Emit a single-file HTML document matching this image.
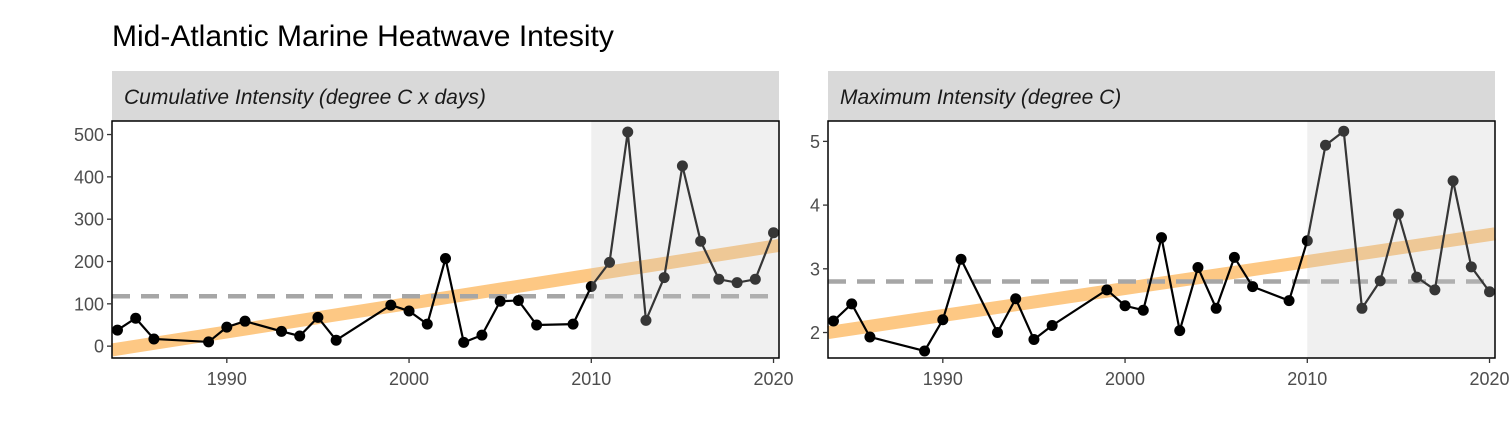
<!DOCTYPE html>
<html><head><meta charset="utf-8">
<style>
body{margin:0;background:#fff;width:1512px;height:432px;overflow:hidden;font-family:"Liberation Sans",sans-serif;}
</style></head>
<body>
<svg id="chart" width="1512" height="432" xmlns="http://www.w3.org/2000/svg" font-family="Liberation Sans, sans-serif">
<text x="112" y="46" font-size="30" fill="#000">Mid-Atlantic Marine Heatwave Intesity</text>
</svg>
<script>
const years=[1984,1985,1986,1989,1990,1991,1993,1994,1995,1996,1999,2000,2001,2002,2003,2004,2005,2006,2007,2009,2010,2011,2012,2013,2014,2015,2016,2017,2018,2019,2020];
const cumValues=[38,66,17,10,45,59,35,24,68,14,97,83,52,207,9,26,106,108,50,52,141,198,506,61,162,426,248,158,150,158,268];
const maxValues=[2.18,2.45,1.93,1.71,2.2,3.15,2.0,2.53,1.89,2.11,2.67,2.42,2.35,3.49,2.03,3.02,2.38,3.18,2.72,2.5,3.44,4.94,5.16,2.38,2.81,3.86,2.87,2.67,4.38,3.03,2.64];
const xTicks=[1990,2000,2010,2020];
const cumTicks=[0,100,200,300,400,500];
const maxTicks=[2,3,4,5];
const cumTrend=[-9,238];
const maxTrend=[2.0,3.55];
const cumMean=118, maxMean=2.8;
const shadeStart=2010;

const NS="http://www.w3.org/2000/svg";
const svg=document.getElementById('chart');
function mk(tag,attrs,parent){const e=document.createElementNS(NS,tag);for(const k in attrs)e.setAttribute(k,attrs[k]);(parent||svg).appendChild(e);return e;}

function panel(px,title,vals,ticks,yMin,yMax,trend,mean,key){
  const L=px,R=px+667,T=121,B=358;
  const xMin=1983.7,xMax=2020.3;
  const X=v=>L+(v-xMin)/(xMax-xMin)*(R-L);
  const Y=v=>B-(v-yMin)/(yMax-yMin)*(B-T);
  const g=mk('g',{});
  
  
  const strip=mk('rect',{x:L,y:71,width:R-L,height:50,fill:'#d9d9d9'},g);
  
  
  const st=mk('text',{x:L+12,y:104,'font-size':21,'font-style':'italic',fill:'#1a1a1a'},g);
  st.textContent=title;
  
  
  // trend
  const tr=mk('line',{x1:L,y1:Y(trend[0]),x2:R,y2:Y(trend[1]),stroke:'#fdbf6f',"stroke-width":13,opacity:0.85},g);
  
  
  const ml=mk('line',{x1:L,y1:Y(mean),x2:R,y2:Y(mean),stroke:'#a6a6a6',"stroke-width":4.5,"stroke-dasharray":"18 11"},g);
  
  
  let d='';
  years.forEach((yr,i)=>{d+=(i?'L':'M')+X(yr)+','+Y(vals[i]);});
  const pl=mk('path',{d:d,fill:'none',stroke:'#000',"stroke-width":2.2},g);
  
  
  years.forEach((yr,i)=>{
    const c=mk('circle',{cx:X(yr),cy:Y(vals[i]),r:5.5,fill:'#000'},g);
    
    
  });
  const sh=mk('rect',{x:X(shadeStart),y:T,width:R-X(shadeStart),height:B-T,fill:'rgba(200,200,200,0.27)'},g);
  
  
  const fr=mk('rect',{x:L,y:T,width:R-L,height:B-T,fill:'none',stroke:'#000',"stroke-width":1.5},g);
  
  
  xTicks.forEach(t=>{
    mk('line',{x1:X(t),y1:B,x2:X(t),y2:B+5,stroke:'#333',"stroke-width":1.3},g);
    const tx=mk('text',{x:X(t),y:B+27,'font-size':18,fill:'#4d4d4d','text-anchor':'middle'},g);
    tx.textContent=t;
    
    
  });
  ticks.forEach(t=>{
    mk('line',{x1:L-5,y1:Y(t),x2:L,y2:Y(t),stroke:'#333',"stroke-width":1.3},g);
    const tx=mk('text',{x:L-8,y:Y(t)+6.5,'font-size':18,fill:'#4d4d4d','text-anchor':'end'},g);
    tx.textContent=t;
    
    
  });
}
panel(112,'Cumulative Intensity (degree C x days)',cumValues,cumTicks,-28,532,cumTrend,cumMean,'cumulative');
panel(828,'Maximum Intensity (degree C)',maxValues,maxTicks,1.6,5.32,maxTrend,maxMean,'maximum');
</script>
</body></html>
